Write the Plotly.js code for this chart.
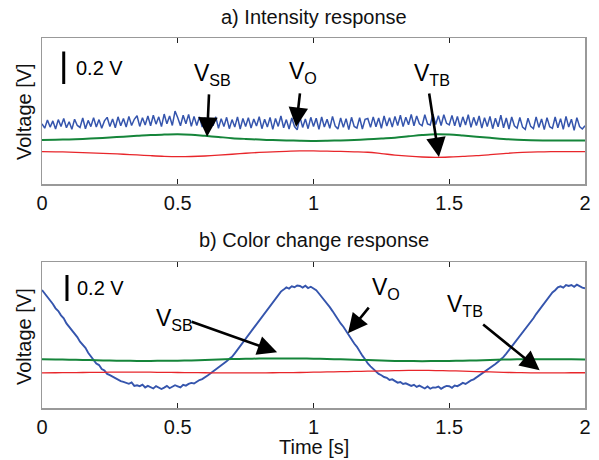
<!DOCTYPE html>
<html>
<head>
<meta charset="utf-8">
<script src="https://cdn.plot.ly/plotly-3.0.1.min.js"></script>
<style>html,body{margin:0;padding:0;background:#fff;}#chart{width:599px;height:460px;}</style>
</head>
<body>
<div id="chart"></div>
<script>
// Sampling (seconds)
const dtFine = 0.01;   // blue traces
const dtCoarse = 0.05; // green / red traces

// ---- a) Intensity response (mV) ----
const intensityVO = [
  372,345,395,352,390,340,398,356,405,348,
  385,338,400,362,350,408,342,393,355,410,
  352,398,345,390,412,355,402,348,415,360,
  405,352,418,362,400,422,356,410,365,420,
  360,425,370,415,355,432,372,420,362,450,
  410,360,425,372,430,356,418,362,415,352,
  410,350,405,360,415,345,404,355,412,342,
  398,352,415,340,405,355,410,346,402,358,
  416,342,400,352,412,338,405,356,420,348,
  398,340,408,355,335,415,350,402,342,412,
  355,406,338,414,352,400,345,418,358,340,
  408,350,404,336,412,356,346,410,340,400,
  405,350,415,354,408,345,420,358,410,352,
  418,362,425,355,412,366,430,360,420,372,
  360,428,372,365,432,368,422,362,428,375,
  366,424,360,418,352,415,365,428,350,412,
  362,420,346,410,356,418,342,406,354,425,
  348,408,340,414,360,345,412,352,338,406,
  356,342,415,350,402,336,410,354,344,414,
  348,404,338,418,352,400,332,410,355,340,
  360
];
const intensityVSB = [
  273,274,276,279,283,288,293,298,303,306,308,305,298,291,284,279,275,272,270,268,
  267,268,270,273,277,282,287,295,303,308,306,300,293,286,279,274,271,270,270,269,269
];
const intensityVTB = [
  201,200,198,195,192,189,185,181,176,172,170,171,174,179,185,191,196,200,203,205,
  205,204,202,200,197,189,180,173,168,166,168,172,176,182,189,195,198,200,201,201,201
];

// ---- b) Color change response (mV) ----
const colorVO = [
  907,880,862,828,800, 766,745,712,690,650, 624,600,565,545,510, 486,462,425,400,372,
  342,330,300,288,262, 252,240,225,218,206, 201,192,186,196,170, 175,168,180,158,170,
  162,150,168,155,146, 157,170,152,162,175, 167,158,178,172,185, 193,188,205,215,222,
  239,250,265,280,298, 316,330,345,360,378, 393,420,448,470,502, 529,555,585,610,642,
  670,698,725,752,782, 809,838,862,895,910, 927,918,935,928,942, 938,926,940,922,932,
  920,905,880,855,830, 804,775,745,712,682, 650,625,590,560,528, 496,470,432,402,375,
  342,320,300,280,262, 252,238,232,215,220, 208,195,200,185,190, 183,170,178,162,172,
  162,150,165,148,158, 157,165,148,160,170, 167,155,172,168,180, 193,185,200,212,220,
  234,248,262,275,290, 303,320,338,355,372, 393,418,445,470,498, 522,550,578,605,635,
  663,690,722,750,780, 809,835,862,888,905, 927,935,925,945,938, 945,932,948,935,925,
  920
];
const colorVSB = [
  375,373,371,369,367,365,363,362,362,363,364,366,369,373,376,378,380,381,381,380,
  379,377,374,371,368,365,362,361,360,361,362,364,366,369,372,374,375,375,374,374,373
];
const colorVTB = [
  270,271,272,273,274,275,275,275,275,274,273,272,271,270,270,270,270,271,272,273,
  275,277,279,281,283,285,287,289,289,288,286,283,280,277,274,272,270,270,270,271,271
];

const xTicks = [0, 0.5, 1, 1.5, 2];
const xTickText = ['0', '0.5', '1', '1.5', '2'];
const scaleBar = 200; // mV

function timeAxis(n, dt){ return Array.from({length:n}, (_, i) => +(i*dt).toFixed(4)); }

const BLUE = '#3555ad', GREEN = '#15853a', RED = '#e8262b';
const FONT = 'Arial, "Liberation Sans", Helvetica, sans-serif';

const traces = [
  {x: timeAxis(intensityVO.length, dtFine), y: intensityVO, xaxis:'x', yaxis:'y', mode:'lines', line:{color:BLUE, width:1.5}, name:'V_O'},
  {x: timeAxis(intensityVSB.length, dtCoarse), y: intensityVSB, xaxis:'x', yaxis:'y', mode:'lines', line:{color:GREEN, width:2, shape:'spline'}, name:'V_SB'},
  {x: timeAxis(intensityVTB.length, dtCoarse), y: intensityVTB, xaxis:'x', yaxis:'y', mode:'lines', line:{color:RED, width:1.3, shape:'spline'}, name:'V_TB'},
  {x: timeAxis(colorVO.length, dtFine), y: colorVO, xaxis:'x2', yaxis:'y2', mode:'lines', line:{color:BLUE, width:1.9}, name:'V_O'},
  {x: timeAxis(colorVSB.length, dtCoarse), y: colorVSB, xaxis:'x2', yaxis:'y2', mode:'lines', line:{color:GREEN, width:2, shape:'spline'}, name:'V_SB'},
  {x: timeAxis(colorVTB.length, dtCoarse), y: colorVTB, xaxis:'x2', yaxis:'y2', mode:'lines', line:{color:RED, width:1.3, shape:'spline'}, name:'V_TB'}
];

const xAxisBase = {
  range:[0,2], tickvals:xTicks, ticktext:xTickText, ticks:'inside', ticklen:5, tickwidth:1,
  tickcolor:'#222', showline:true, linecolor:'#999', linewidth:1.5, mirror:'ticks',
  showgrid:false, zeroline:false, tickfont:{family:FONT, size:20, color:'#111'}, fixedrange:true
};
const yAxisBase = {
  showticklabels:false, ticks:'', showline:true, linecolor:'#999', linewidth:1.5, mirror:true,
  showgrid:false, zeroline:false, fixedrange:true
};

function lbl(x, y, xr, yr, text, size){
  return {x:x, y:y, xref:xr, yref:yr, text:text, showarrow:false, xanchor:'left', yanchor:'middle',
          font:{family:FONT, size:size, color:'#000'}};
}
function arr(x, y, xr, yr, ax, ay){
  return {x:x, y:y, xref:xr, yref:yr, ax:ax, ay:ay, text:'', showarrow:true, arrowhead:2,
          arrowsize:1.5, arrowwidth:2.6, arrowcolor:'#000', standoff:0};
}

const annotations = [
  {x:0.5, y:1.057, xref:'paper', yref:'paper', text:'a) Intensity response', showarrow:false, xanchor:'center', yanchor:'middle', font:{family:FONT, size:20, color:'#111'}},
  {x:0.5, y:0.454, xref:'paper', yref:'paper', text:'b) Color change response', showarrow:false, xanchor:'center', yanchor:'middle', font:{family:FONT, size:20, color:'#111'}},
  {x:-0.033, y:0.80, xref:'paper', yref:'paper', text:'Voltage [V]', textangle:-90, showarrow:false, xanchor:'center', yanchor:'middle', font:{family:FONT, size:20, color:'#111'}},
  {x:-0.033, y:0.192, xref:'paper', yref:'paper', text:'Voltage [V]', textangle:-90, showarrow:false, xanchor:'center', yanchor:'middle', font:{family:FONT, size:20, color:'#111'}},
  {x:0.5, y:-0.105, xref:'paper', yref:'paper', text:'Time [s]', showarrow:false, xanchor:'center', yanchor:'middle', font:{family:FONT, size:20, color:'#111'}},
  // scale bar labels
  lbl(0.119, 717, 'x', 'y', '0.2 V', 20),
  lbl(0.123, 920, 'x2', 'y2', '0.2 V', 20),
  // top labels + arrows
  lbl(0.553, 674, 'x', 'y', 'V<sub>SB</sub>', 23),
  lbl(0.903, 686, 'x', 'y', 'V<sub>O</sub>', 23),
  lbl(1.362, 677, 'x', 'y', 'V<sub>TB</sub>', 23),
  arr(0.608, 292, 'x', 'y', 2, -44),
  arr(0.936, 353, 'x', 'y', 4, -35),
  arr(1.462, 168, 'x', 'y', -10, -65),
  // bottom labels + arrows
  lbl(0.413, 683, 'x2', 'y2', 'V<sub>SB</sub>', 23),
  lbl(1.208, 922, 'x2', 'y2', 'V<sub>O</sub>', 23),
  lbl(1.484, 791, 'x2', 'y2', 'V<sub>TB</sub>', 23),
  arr(0.866, 429, 'x2', 'y2', -87, -31),
  arr(1.127, 575, 'x2', 'y2', 22, -27),
  arr(1.833, 290, 'x2', 'y2', -58, -47)
];

const shapes = [
  {type:'line', xref:'x', yref:'y', x0:0.080, x1:0.080, y0:617, y1:617+scaleBar, line:{color:'#000', width:3}},
  {type:'line', xref:'x2', yref:'y2', x0:0.092, x1:0.092, y0:822, y1:822+scaleBar, line:{color:'#000', width:3}}
];

const layout = {
  width:599, height:460, showlegend:false,
  paper_bgcolor:'#fff', plot_bgcolor:'#fff',
  margin:{l:42, r:14, t:38, b:52},
  xaxis: Object.assign({}, xAxisBase, {domain:[0,1], anchor:'y'}),
  yaxis: Object.assign({}, yAxisBase, {domain:[0.6046,1], range:[0,900], anchor:'x'}),
  xaxis2: Object.assign({}, xAxisBase, {domain:[0,1], anchor:'y2'}),
  yaxis2: Object.assign({}, yAxisBase, {domain:[0,0.3938], range:[0,1120], anchor:'x2'}),
  annotations: annotations,
  shapes: shapes
};

Plotly.newPlot('chart', traces, layout, {staticPlot:true, displayModeBar:false});
</script>
</body>
</html>
